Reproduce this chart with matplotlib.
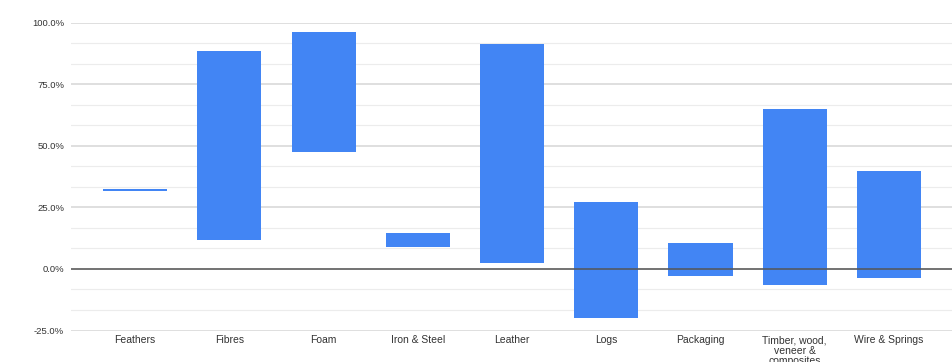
import matplotlib
matplotlib.use("Agg")
import matplotlib.pyplot as plt
import numpy as np
from matplotlib.ticker import FuncFormatter, MultipleLocator

categories = ["Feathers", "Fibres", "Foam", "Iron & Steel", "Leather", "Logs",
              "Packaging", "Timber, wood,\nveneer &\ncomposites", "Wire & Springs"]
low = [31.8, 11.8, 47.7, 8.9, 2.6, -20.0, -3.0, -6.6, -3.6]
high = [32.4, 88.4, 96.3, 14.6, 91.5, 27.2, 10.5, 64.9, 40.0]

plt.rcParams['font.family'] = ['Liberation Sans', 'DejaVu Sans']

fig = plt.figure(figsize=(9.53, 3.62), dpi=100)
ax = fig.add_axes([71 / 953, 0.087, (953 - 71) / 953, 0.85])

x = np.arange(len(categories))
heights = np.array(high) - np.array(low)
ax.bar(x, heights, bottom=low, width=0.68, color="#4285f4", zorder=3)

ax.set_xlim(-0.68, len(categories) - 1 + 0.68)
ax.set_ylim(-25, 100)
ax.yaxis.set_major_locator(MultipleLocator(25))
ax.yaxis.set_minor_locator(MultipleLocator(25 / 3))
ax.yaxis.set_major_formatter(FuncFormatter(lambda v, p: f"{v:.1f}%"))

ax.grid(axis="y", which="major", color="#d6d6d6", linewidth=1.1, zorder=0)
ax.grid(axis="y", which="minor", color="#ececec", linewidth=0.8, zorder=0)
ax.axhline(0, color="#555555", linewidth=1.1, zorder=4)

ax.set_xticks(x)
ax.set_xticklabels(categories, fontsize=7.5, color="#333333", va="top",
                   linespacing=1.05)
ax.tick_params(axis="x", length=0, pad=3.5)
ax.tick_params(axis="y", which="both", length=0, pad=5, labelsize=6.8,
               labelcolor="#333333")

for s in ax.spines.values():
    s.set_visible(False)

fig.savefig("out.png", dpi=100)
